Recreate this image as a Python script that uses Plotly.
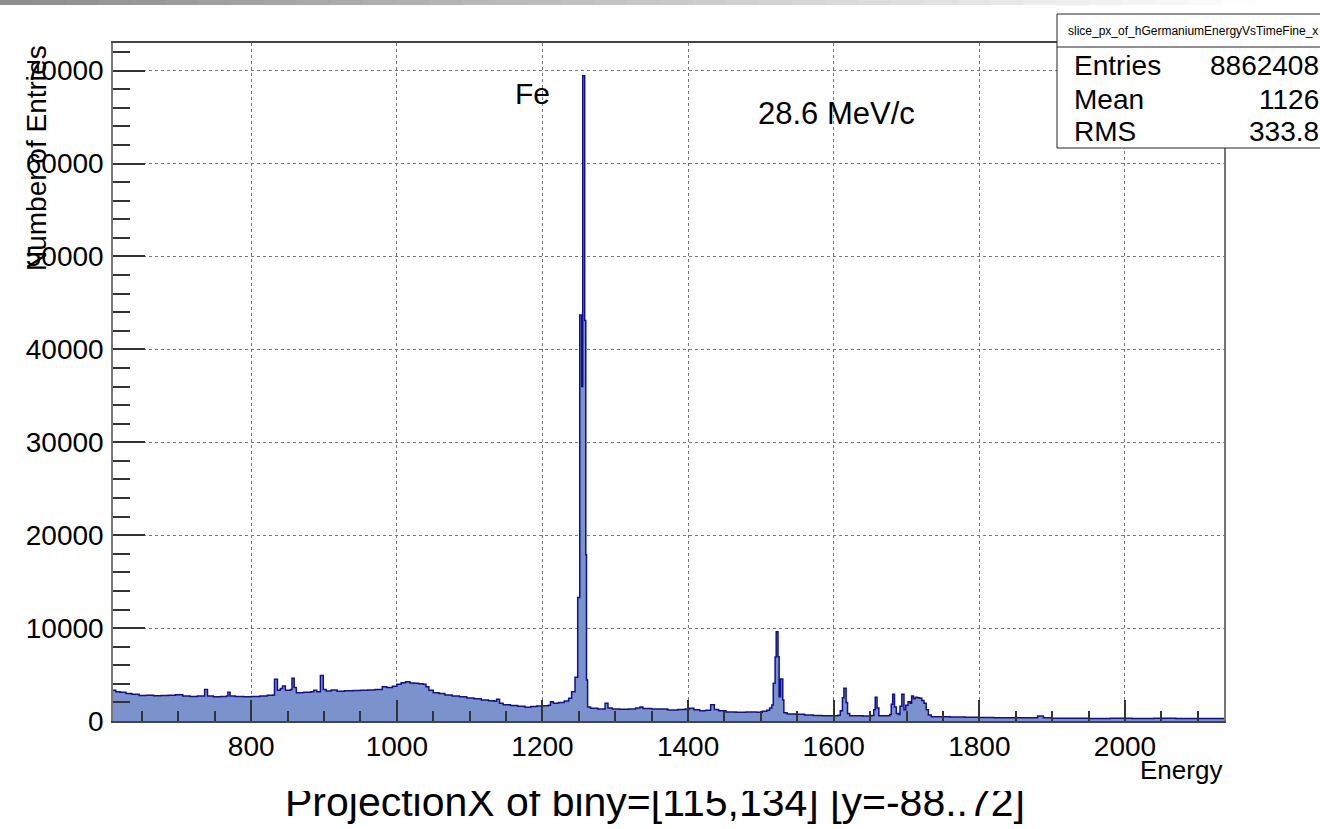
import plotly.graph_objects as go

# ---------------- data ----------------
bin_edges = [
    610, 614, 620, 628, 636, 646, 656, 666, 676, 686, 696, 706, 716, 726, 734, 736, 740, 748,
    758, 766, 768, 771, 778, 790, 800, 812, 822, 830, 832, 836, 840, 843, 847, 854, 856, 859,
    862, 872, 882, 886, 890, 895, 899, 903, 910, 918, 928, 940, 950, 960, 970, 980, 986, 994,
    1000, 1006, 1012, 1018, 1024, 1030, 1036, 1040, 1044, 1050, 1058, 1066, 1076, 1086, 1096,
    1106, 1116, 1126, 1134, 1137, 1141, 1146, 1156, 1166, 1176, 1184, 1192, 1200, 1208, 1211,
    1215, 1222, 1230, 1236, 1240, 1244.7, 1248.4, 1251.2, 1253.9, 1255.3, 1258.0, 1259.5,
    1260.5, 1262, 1266, 1276, 1286, 1290, 1296, 1306, 1318, 1328, 1334, 1338, 1350, 1362,
    1372, 1386, 1396, 1402, 1408, 1416, 1424, 1431, 1436, 1442, 1452, 1466, 1480, 1494, 1502,
    1508, 1512, 1515, 1517, 1519.5, 1521, 1523.5, 1525, 1527, 1530, 1531.5, 1536, 1548, 1560,
    1572, 1584, 1596, 1606, 1609, 1612, 1614, 1617, 1619, 1622, 1640, 1652, 1655, 1657,
    1659.5, 1662, 1672, 1677, 1679, 1681, 1683.5, 1686, 1689, 1691, 1693.5, 1696.5, 1699,
    1702, 1705, 1707, 1709.5, 1712, 1715, 1718, 1721, 1724, 1727, 1730, 1734, 1746, 1760,
    1780, 1800, 1820, 1840, 1860, 1880, 1888, 1900, 1920, 1950, 1980, 2010, 2040, 2070, 2100,
    2120, 2136,
]
counts = [
    3300, 3150, 3100, 2950, 2880, 2740, 2760, 2720, 2750, 2780, 2830, 2700, 2650, 2680, 2700,
    3400, 2700, 2610, 2640, 2700, 3100, 2700, 2650, 2620, 2640, 2700, 2760, 2800, 4490, 3300,
    3500, 3770, 3300, 3400, 4590, 3600, 3050, 3100, 3150, 3300, 3150, 4910, 3400, 3230, 3340,
    3200, 3250, 3270, 3300, 3340, 3400, 3700, 3600, 3750, 3950, 4120, 4230, 4100, 4060, 4000,
    3950, 3700, 3300, 3050, 2950, 2800, 2700, 2600, 2470, 2400, 2270, 2180, 2120, 2330, 1900,
    1760, 1680, 1600, 1480, 1560, 1610, 1640, 1700, 2080, 1900, 2000, 2150, 2440, 3150, 4700,
    13300, 43700, 36000, 69450, 43100, 17900, 4400, 1500, 1370, 1300, 1900, 1400, 1300, 1260,
    1300, 1400, 1500, 1350, 1300, 1280, 1180, 1230, 1300, 1370, 1200, 1110, 1150, 1760, 1250,
    1100, 980, 950, 960, 940, 1050, 1150, 1400, 1720, 4060, 6900, 9610, 6920, 2620, 4520,
    2260, 900, 760, 740, 640, 580, 560, 560, 620, 1100, 2500, 3520, 2000, 800, 560, 540, 600,
    1200, 2550, 1400, 560, 560, 700, 1800, 2870, 1500, 800, 700, 1600, 2870, 1200, 1700, 2080,
    1900, 2690, 2400, 2550, 2500, 2450, 2200, 1900, 1200, 650, 460, 450, 420, 400, 380, 360,
    350, 340, 540, 340, 300, 290, 280, 290, 280, 290, 270, 280, 270,
]
x_range = [610.2, 2136.0]
y_range = [0, 72980]
x_ticks = [800, 1000, 1200, 1400, 1600, 1800, 2000]
y_ticks = [0, 10000, 20000, 30000, 40000, 50000, 60000, 70000]

stats_title = "slice_px_of_hGermaniumEnergyVsTimeFine_x"
stats_names = ["Entries", "Mean", "RMS"]
stats_values = ["8862408", "1126", "333.8"]
peak_labels = ["Fe", "28.6 MeV/c"]
hist_title = "ProjectionX of biny=[115,134] [y=-88..72]"

# ---------------- layout geometry ----------------
W, H = 1320, 829
L, R, T, B = 113, 1224, 43, 721
FONT = "Liberation Sans, Arial, Helvetica, sans-serif"


def px(xp):
    return (xp - L) / (R - L)


def py(yp):
    return (B - yp) / (B - T)


FILL = "#7b93cc"
LINE = "#10108f"

fig = go.Figure()
fig.add_trace(go.Scatter(
    x=bin_edges, y=counts + [counts[-1]], mode="lines",
    line=dict(shape="hv", color=LINE, width=1.5),
    fill="tozeroy", fillcolor=FILL, hoverinfo="skip", showlegend=False,
))

shapes = []
# top window gradient strip
nstrip = 40
for i in range(nstrip):
    x0 = i * W / nstrip
    x1 = (i + 1) * W / nstrip
    frac = min(1.0, (x0 + x1) / 2 / 1250)
    g = int(0x8c + (0xff - 0x8c) * frac)
    shapes.append(dict(type="rect", xref="paper", yref="paper",
                       x0=px(x0), x1=px(x1), y0=py(5), y1=py(0),
                       line=dict(width=0), fillcolor=f"rgb({g},{g},{g})", layer="above"))
# stats box
shapes.append(dict(type="rect", xref="paper", yref="paper",
                   x0=px(1057), x1=px(1340), y0=py(148), y1=py(14),
                   line=dict(color="#222", width=1), fillcolor="white", layer="above"))
shapes.append(dict(type="line", xref="paper", yref="paper",
                   x0=px(1057), x1=px(1340), y0=py(47), y1=py(47),
                   line=dict(color="#222", width=1), layer="above"))

ann = []
# y axis title
ann.append(dict(text="Number of Entries", xref="paper", yref="paper", x=px(36), y=py(43),
                xanchor="center", yanchor="top", textangle=-90, showarrow=False,
                font=dict(family=FONT, size=28, color="black")))
# x axis title
ann.append(dict(text="Energy", xref="paper", yref="paper", x=px(1224), y=py(770),
                xanchor="right", yanchor="middle", showarrow=False,
                font=dict(family=FONT, size=26, color="black")))
# peak labels
ann.append(dict(text=peak_labels[0], xref="paper", yref="paper", x=px(532), y=py(93),
                xanchor="center", yanchor="middle", showarrow=False,
                font=dict(family=FONT, size=30, color="black")))
ann.append(dict(text=peak_labels[1], xref="paper", yref="paper", x=px(836), y=py(113),
                xanchor="center", yanchor="middle", showarrow=False,
                font=dict(family=FONT, size=31, color="black")))
# stats text
ann.append(dict(text=stats_title, xref="paper", yref="paper", x=px(1066), y=py(31),
                xanchor="left", yanchor="middle", showarrow=False,
                font=dict(family=FONT, size=12, color="black")))
for name, val, yc in zip(stats_names, stats_values, [66, 99, 131]):
    ann.append(dict(text=name, xref="paper", yref="paper", x=px(1072), y=py(yc),
                    xanchor="left", yanchor="middle", showarrow=False,
                    font=dict(family=FONT, size=28, color="black")))
    ann.append(dict(text=val, xref="paper", yref="paper", x=px(1321), y=py(yc),
                    xanchor="right", yanchor="middle", showarrow=False,
                    font=dict(family=FONT, size=28, color="black")))
# histogram title at the bottom (top clipped in the reference)
ann.append(dict(text=hist_title, xref="paper", yref="paper", x=px(655), y=py(818),
                xanchor="center", yanchor="bottom", yshift=-9, showarrow=False,
                font=dict(family=FONT, size=41, color="black")))
ann.append(dict(text="\u00a0", xref="paper", yref="paper", x=px(655), y=py(791),
                xanchor="center", yanchor="bottom", showarrow=False,
                width=820, height=24, bgcolor="white", borderpad=0, borderwidth=0,
                font=dict(size=4)))

fig.update_layout(
    width=W, height=H,
    margin=dict(l=L, r=W - R, t=T, b=H - B, pad=0),
    paper_bgcolor="white", plot_bgcolor="white",
    showlegend=False,
    shapes=shapes, annotations=ann,
    font=dict(family=FONT, color="black"),
)
fig.update_xaxes(
    range=x_range, tickvals=x_ticks, tickformat="d",
    ticks="inside", ticklen=21, tickwidth=1.5, tickcolor="#333",
    minor=dict(dtick=50, tick0=0, ticks="inside", ticklen=10, tickwidth=1.5, tickcolor="#333", showgrid=False),
    showgrid=True, gridcolor="#777", griddash="dot", gridwidth=1,
    showline=True, linecolor="#444", linewidth=1.5, mirror=True,
    zeroline=False, layer="above traces",
    tickfont=dict(family=FONT, size=28, color="black"), ticklabelstandoff=0,
)
fig.update_yaxes(
    range=y_range, tickvals=y_ticks, tickformat="d",
    ticks="inside", ticklen=32, tickwidth=1.5, tickcolor="#333",
    minor=dict(dtick=2000, tick0=0, ticks="inside", ticklen=17, tickwidth=1.5, tickcolor="#333", showgrid=False),
    showgrid=True, gridcolor="#777", griddash="dot", gridwidth=1,
    showline=True, linecolor="#777", linewidth=1.5, mirror=True,
    zeroline=False, layer="above traces",
    tickfont=dict(family=FONT, size=28, color="black"), ticklabelstandoff=2,
)

fig.write_html("out.html")
